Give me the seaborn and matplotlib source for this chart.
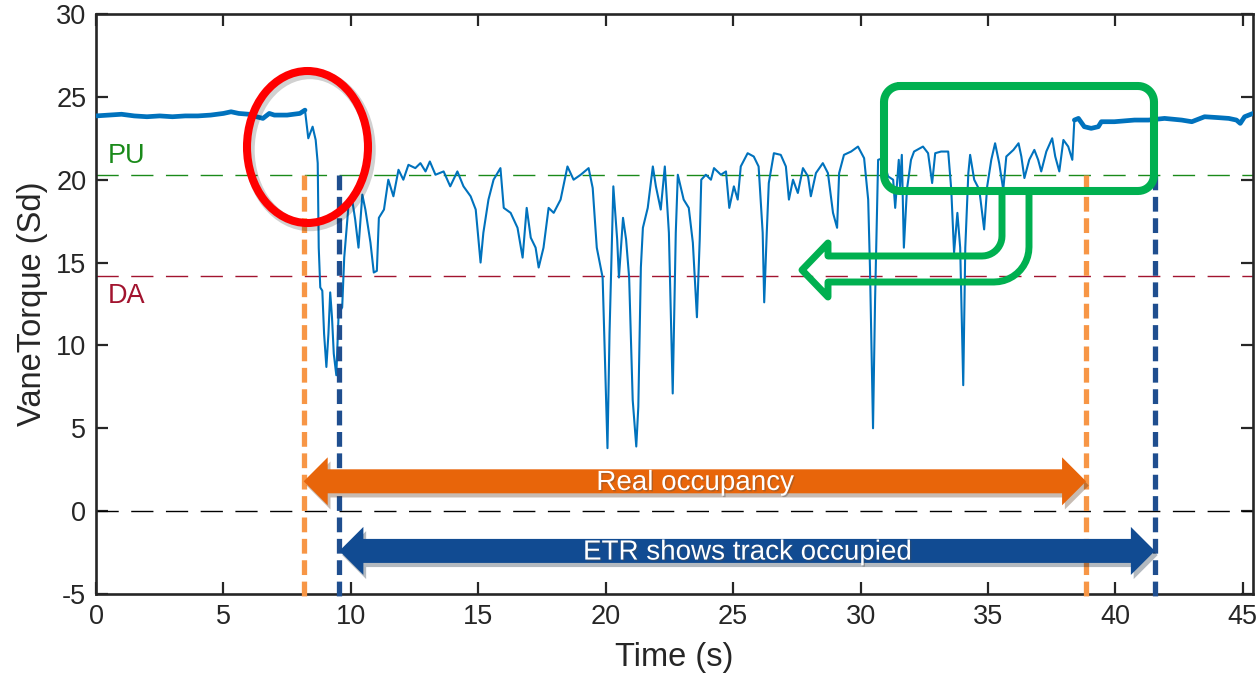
import numpy as np
import pandas as pd
import matplotlib
matplotlib.use("Agg")
import matplotlib.pyplot as plt
import seaborn as sns
from matplotlib.patches import Ellipse, Polygon, PathPatch
from matplotlib.path import Path
import matplotlib.patheffects as pe

# ---- vane torque recording ----
time_s = [
    0.0, 0.5, 1.0, 1.5, 2.0, 2.5, 3.0, 3.5, 4.0, 4.5, 5.0, 5.3, 5.6, 6.0, 6.3,
    6.55, 6.8, 7.0, 7.5, 8.0, 8.2, 8.33, 8.5, 8.62, 8.7, 8.74, 8.8, 8.88, 8.95,
    9.04, 9.12, 9.19, 9.26, 9.33, 9.43, 9.52, 9.66, 9.74, 9.9, 10.05, 10.17,
    10.3, 10.45, 10.57, 10.77, 10.9, 11.02, 11.1, 11.3, 11.47, 11.67, 11.87,
    12.06, 12.26, 12.53, 12.73, 12.93, 13.1, 13.32, 13.64, 13.9, 14.18, 14.42,
    14.7, 14.9, 15.09, 15.2, 15.4, 15.6, 15.87, 16.0, 16.27, 16.54, 16.74, 16.9,
    17.06, 17.25, 17.37, 17.56, 17.76, 17.96, 18.23, 18.5, 18.74, 19.02, 19.33,
    19.49, 19.65, 19.88, 20.07, 20.15, 20.3, 20.45, 20.52, 20.68, 20.8, 20.92,
    21.06, 21.2, 21.28, 21.38, 21.46, 21.65, 21.85, 21.97, 22.16, 22.32, 22.48,
    22.63, 22.75, 22.83, 23.06, 23.26, 23.42, 23.58, 23.69, 23.75, 23.93, 24.13,
    24.25, 24.52, 24.72, 24.85, 25.03, 25.18, 25.3, 25.57, 25.81, 26.0, 26.16,
    26.22, 26.32, 26.4, 26.6, 26.87, 27.07, 27.19, 27.35, 27.54, 27.74, 27.94,
    28.05, 28.25, 28.52, 28.72, 28.92, 29.08, 29.16, 29.35, 29.63, 29.9, 30.14,
    30.3, 30.37, 30.49, 30.57, 30.69, 30.88, 31.08, 31.28, 31.36, 31.5, 31.55,
    31.62, 31.7, 31.82, 31.98, 32.1, 32.45, 32.65, 32.81, 32.93, 33.16, 33.44,
    33.56, 33.67, 33.8, 33.91, 34.03, 34.11, 34.23, 34.3, 34.46, 34.66, 34.85,
    34.97, 35.13, 35.28, 35.44, 35.6, 35.72, 36.0, 36.2, 36.31, 36.43, 36.62,
    36.82, 36.97, 37.09, 37.29, 37.52, 37.64, 37.8, 37.96, 38.15, 38.31, 38.39,
    38.55, 38.78, 39.05, 39.33, 39.45, 39.96, 40.75, 41.3, 41.93, 42.6, 43.0,
    43.5, 44.0, 44.45, 44.75, 44.9, 45.07, 45.4,
]
vane_torque = [
    23.85, 23.9, 23.95, 23.85, 23.8, 23.85, 23.8, 23.85, 23.85, 23.9, 24.0, 24.1,
    24.0, 23.95, 23.8, 23.7, 24.0, 23.9, 23.9, 24.0, 24.2, 22.5, 23.2, 22.4,
    21.0, 15.9, 13.5, 13.3, 10.7, 8.7, 10.7, 13.2, 11.7, 9.5, 8.2, 11.9, 12.3,
    15.3, 18.3, 18.8, 17.6, 15.9, 19.1, 18.2, 16.2, 14.4, 14.5, 17.7, 18.2,
    20.0, 19.0, 20.6, 20.0, 20.9, 20.7, 21.0, 20.5, 21.1, 20.3, 20.5, 19.6,
    20.5, 19.6, 19.0, 18.2, 15.0, 16.8, 18.8, 20.0, 20.7, 18.3, 18.0, 17.1,
    15.3, 18.3, 16.5, 15.9, 14.7, 15.9, 18.3, 18.0, 18.8, 20.8, 20.0, 20.3,
    20.7, 19.5, 15.9, 14.1, 3.8, 10.7, 19.6, 16.4, 14.1, 17.7, 16.4, 14.1,
    6.7, 3.9, 6.3, 14.7, 17.1, 18.3, 20.8, 19.6, 18.2, 20.8, 16.8, 7.1, 16.8,
    20.3, 18.8, 18.3, 16.2, 11.7, 16.4, 20.0, 20.3, 20.0, 20.7, 20.3, 20.5,
    18.3, 19.6, 18.8, 20.8, 21.6, 21.4, 20.8, 16.8, 12.6, 16.8, 19.8, 21.6,
    21.5, 20.8, 18.8, 20.0, 19.2, 20.7, 20.2, 19.0, 20.4, 21.0, 20.4, 18.0,
    17.1, 20.4, 21.5, 21.7, 22.0, 21.3, 18.8, 14.7, 5.0, 12.7, 21.2, 21.3,
    20.2, 20.0, 18.3, 21.2, 19.6, 21.5, 15.9, 19.4, 21.2, 21.7, 22.0, 21.6,
    19.8, 21.6, 21.7, 21.7, 19.4, 15.6, 18.0, 15.9, 7.6, 15.9, 20.4, 21.5,
    20.0, 19.4, 17.0, 19.6, 21.2, 22.2, 21.0, 19.4, 21.4, 21.8, 22.2, 21.4,
    20.1, 21.2, 21.8, 21.2, 20.5, 21.7, 22.5, 21.4, 20.5, 22.4, 22.0, 21.2,
    23.6, 23.7, 23.2, 23.1, 23.2, 23.5, 23.5, 23.6, 23.6, 23.7, 23.6, 23.5,
    23.8, 23.75, 23.7, 23.6, 23.4, 23.8, 24.0,
]

# thresholds and occupancy windows (s)
pu_level = 20.3
da_level = 14.2
real_occupancy = (8.15, 38.85)
etr_occupancy = (9.55, 41.55)

x_ticks = [0, 5, 10, 15, 20, 25, 30, 35, 40, 45]
y_ticks = [-5, 0, 5, 10, 15, 20, 25, 30]
x_limits = (0, 45.4)
y_limits = (-5, 30)

INK = "#262626"
LINE_BLUE = "#0072BD"
ORANGE_DASH = "#F79646"
NAVY_DASH = "#1F4E8F"
ORANGE_FILL = "#E8650A"
NAVY_FILL = "#114B92"
CALLOUT_GREEN = "#00B050"

sns.set_style("ticks")
plt.rcParams["font.family"] = ["Liberation Sans", "DejaVu Sans"]
plt.rcParams["axes.unicode_minus"] = False

W, H = 1260, 683
fig = plt.figure(figsize=(W / 100, H / 100), dpi=100)
ax = fig.add_axes([96 / W, 1 - 594 / H, (1253 - 96) / W, (594 - 14) / H])

df = pd.DataFrame({"Time (s)": time_s, "VaneTorque (Sd)": vane_torque})
sns.lineplot(data=df, x="Time (s)", y="VaneTorque (Sd)", ax=ax, color=LINE_BLUE,
             linewidth=1.5, estimator=None, sort=False, zorder=4)
# idle portions carry a wider noise band
for seg in (df[df["Time (s)"] <= 8.2], df[df["Time (s)"] >= 38.39]):
    ax.plot(seg["Time (s)"], seg["VaneTorque (Sd)"], color=LINE_BLUE,
            linewidth=3.4, solid_joinstyle="round", zorder=4)

ax.set_xlim(*x_limits)
ax.set_ylim(*y_limits)
ax.set_xticks(x_ticks)
ax.set_yticks(y_ticks)
ax.set_xticklabels([str(v) for v in x_ticks])
ax.set_yticklabels([str(v) for v in y_ticks])
ax.tick_params(direction="in", length=8.5, width=1.6, colors=INK, labelsize=19.5,
               top=True, right=True, pad=7)
for s in ax.spines.values():
    s.set_visible(True)
    s.set_color(INK)
    s.set_linewidth(1.9)
ax.set_xlabel("Time (s)", fontsize=23.5, color=INK, labelpad=9)
ax.set_ylabel("VaneTorque (Sd)", fontsize=23.5, color=INK, labelpad=6)

# threshold lines
ax.axhline(pu_level, color="#1A8A1A", lw=1.0, dashes=(16, 9), zorder=2)
ax.axhline(da_level, color="#A2142F", lw=1.0, dashes=(16, 9), zorder=2)
ax.axhline(0, color="black", lw=1.0, dashes=(16, 9), zorder=2)
ax.text(0.45, 21.45, "PU", color="#1A8A1A", fontsize=19.5, va="center", ha="left")
ax.text(0.45, 13.0, "DA", color="#A2142F", fontsize=19.5, va="center", ha="left")

# pixel <-> data helpers for annotation geometry
pos = ax.get_position()
ax_left_px = pos.x0 * W
ax_top_px = (1 - pos.y1) * H
sx = pos.width * W / (x_limits[1] - x_limits[0])
sy = pos.height * H / (y_limits[1] - y_limits[0])


def px2data(px, py):
    return x_limits[0] + (px - ax_left_px) / sx, y_limits[1] - (py - ax_top_px) / sy


# occupancy start / end markers
for xv, col in ((real_occupancy[0], ORANGE_DASH), (real_occupancy[1], ORANGE_DASH),
                (etr_occupancy[0], NAVY_DASH), (etr_occupancy[1], NAVY_DASH)):
    ax.plot([xv, xv], [pu_level, y_limits[0] - 0.4], color=col, lw=3.8,
            dashes=(2.8, 1.25), clip_on=False, zorder=5,
            solid_capstyle="butt", dash_capstyle="butt")


def double_arrow(x0, x1, yc, fill, label):
    half_shaft = 12 / sy
    half_head = 24 / sy
    head = 24 / sx
    pts = [(x0, yc), (x0 + head, yc + half_head), (x0 + head, yc + half_shaft),
           (x1 - head, yc + half_shaft), (x1 - head, yc + half_head), (x1, yc),
           (x1 - head, yc - half_head), (x1 - head, yc - half_shaft),
           (x0 + head, yc - half_shaft), (x0 + head, yc - half_head)]
    poly = Polygon(pts, closed=True, facecolor=fill, edgecolor="none", zorder=6)
    poly.set_path_effects([pe.SimplePatchShadow(offset=(2, -3), alpha=0.3), pe.Normal()])
    ax.add_patch(poly)
    ax.text((x0 + x1) / 2, yc - 0.1, label, color="white", fontsize=20, ha="center",
            va="center", zorder=7,
            path_effects=[pe.SimplePatchShadow(offset=(1, -1), alpha=0.35), pe.Normal()])


double_arrow(real_occupancy[0], real_occupancy[1], 1.8, ORANGE_FILL, "Real occupancy")
double_arrow(etr_occupancy[0], etr_occupancy[1], -2.4, NAVY_FILL, "ETR shows track occupied")

# red ring around the initial drop, with a soft drop shadow
cx, cy = px2data(307.5, 147)
ring_w, ring_h = 121 / sx, 152 / sy
ax.add_patch(Ellipse((cx + 2.5 / sx, cy - 3 / sy), ring_w, ring_h, fill=False,
                     edgecolor="black", alpha=0.18, linewidth=7.5, zorder=7))
ax.add_patch(Ellipse((cx, cy), ring_w, ring_h, fill=False, edgecolor="#FF0000",
                     linewidth=5.8, zorder=8))


def arc_pts(cxp, cyp, r, a0, a1, n=12):
    a = np.radians(np.linspace(a0, a1, n))
    return list(zip(cxp + r * np.cos(a), cyp + r * np.sin(a)))


# green callout box (pixel space, y downward)
bx0, by0, bx1, by1, br = 884, 86, 1154, 191, 16
box_px = ([(bx0 + br, by0), (bx1 - br, by0)] + arc_pts(bx1 - br, by0 + br, br, -90, 0)
          + [(bx1, by1 - br)] + arc_pts(bx1 - br, by1 - br, br, 0, 90)
          + [(bx0 + br, by1)] + arc_pts(bx0 + br, by1 - br, br, 90, 180)
          + [(bx0, by0 + br)] + arc_pts(bx0 + br, by0 + br, br, 180, 270))
box_xy = [px2data(*p) for p in box_px]
box = PathPatch(Path(box_xy, closed=False), fill=False, edgecolor=CALLOUT_GREEN,
                linewidth=5.8, joinstyle="round", capstyle="round", zorder=8)
ax.add_patch(box)

# hollow U-turn arrow leaving the callout box towards the left
ri, ro = 20, 35
u_px = ([(1002, by1), (1002, 256 - ri)] + arc_pts(1002 - ri, 256 - ri, ri, 0, 90)
        + [(828, 256), (828, 243), (802, 270), (828, 297), (828, 282), (1029 - ro, 282)]
        + arc_pts(1029 - ro, 282 - ro, ro, 90, 0) + [(1029, by1)])
u_xy = [px2data(*p) for p in u_px]
uarrow = PathPatch(Path(u_xy), fill=False, edgecolor=CALLOUT_GREEN, linewidth=5.0,
                   joinstyle="round", capstyle="butt", zorder=8)
ax.add_patch(uarrow)

ax.set_xlim(*x_limits)
ax.set_ylim(*y_limits)
fig.savefig("out.png", dpi=100)
